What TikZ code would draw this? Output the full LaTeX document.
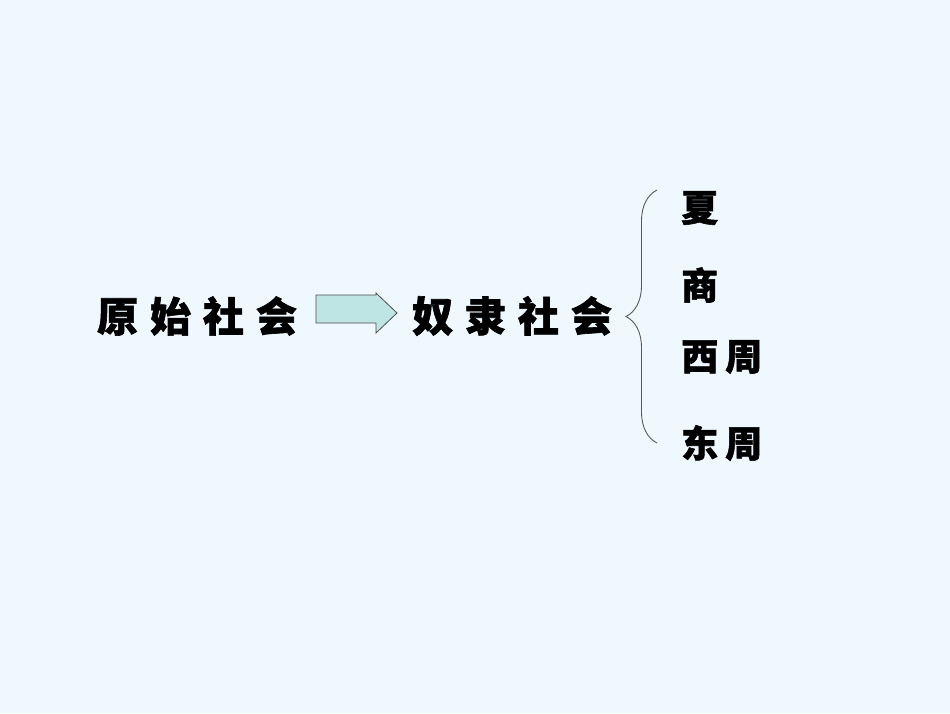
\documentclass[tikz,border=0pt]{standalone}
\usepackage{fontspec}
\newfontfamily\cjk[BoldFeatures={FakeBold=1.5}]{Noto Sans CJK SC}
\usetikzlibrary{decorations.pathreplacing}
\definecolor{bgblue}{RGB}{240,248,255}
\definecolor{arrowfill}{RGB}{191,228,228}
\newcommand{\bigsp}{\hspace{12pt}}
\newcommand{\smallsp}{\hspace{7pt}}
\tikzset{
    stage/.style={font=\cjk\bfseries\fontsize{41}{41}\selectfont, inner sep=0pt},
    era/.style={font=\cjk\bfseries\fontsize{37}{37}\selectfont, inner sep=0pt, anchor=west},
    blockarrow/.style={draw=black!70, fill=arrowfill, line width=0.8pt, line join=miter}
}
\begin{document}
\begin{tikzpicture}[x=1pt, y=-1pt]
    \fill[bgblue] (0,0) rectangle (950,713);
    \node[stage] (prim) at (197,316) {原\bigsp{}始\bigsp{}社\bigsp{}会};
    \node[stage] (slave) at (512,316) {奴\bigsp{}隶\bigsp{}社\bigsp{}会};
    % block arrow between the two stages
    \coordinate (arrtail) at (316,295);
    \coordinate (arrtip) at (397,313);
    \draw[blockarrow] (arrtail) -- (376,295) -- (376,293) -- (arrtip)
        -- (376,333) -- (376,323) -- (316,323) -- cycle;
    % the four dynasties
    \node[era] (xia) at (681,208) {夏};
    \node[era] (shang) at (681,285) {商};
    \node[era] (xizhou) at (681,357) {西\smallsp{}周};
    \node[era] (dongzhou) at (681,443) {东\smallsp{}周};
    \coordinate (btop) at (657,190);
    \coordinate (bbot) at (657,443);
    \draw[black!65, line width=0.9pt, decorate, decoration={brace, amplitude=31pt}] (bbot) -- (btop);
\end{tikzpicture}
\end{document}
